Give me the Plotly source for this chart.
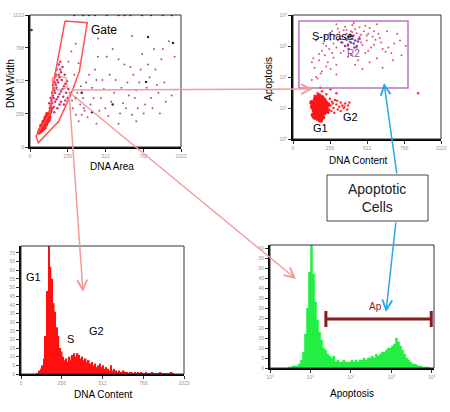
import plotly.graph_objects as go

W, H = 450, 412

# ---- panel 1: DNA Area vs DNA Width (gating) ----
p1_blob_x = [70, 80, 90, 75, 85, 95, 100, 105, 110, 90, 100, 115, 120, 105, 125, 130, 115, 135, 140, 80,
             65, 95, 110, 120, 128, 100, 88, 118, 132, 140, 60, 72, 84, 96, 108]
p1_blob_y = [140, 150, 160, 165, 175, 180, 170, 190, 200, 195, 210, 215, 225, 230, 240, 250, 255, 265, 280, 130,
             125, 145, 175, 195, 210, 150, 140, 238, 230, 300, 110, 120, 135, 160, 185]
p1_cloud_x = [140, 150, 145, 160, 155, 170, 165, 180, 175, 190, 185, 200, 195, 210, 205, 220, 150, 160, 170, 180,
              190, 200, 210, 220, 230, 240, 250, 160, 170, 150, 140, 130, 175, 215, 235, 245, 260, 255, 225, 200,
              185, 165, 210, 230, 240, 195, 205, 180, 170, 155]
p1_cloud_y = [320, 340, 360, 380, 400, 420, 440, 460, 480, 500, 520, 540, 560, 580, 600, 620, 300, 310, 350, 370,
              390, 410, 430, 450, 470, 490, 510, 460, 500, 420, 380, 340, 560, 520, 560, 420, 450, 380, 390, 330,
              300, 270, 350, 330, 360, 640, 660, 600, 540, 480]
p1_sparse_x = [290, 320, 350, 380, 300, 410, 440, 470, 500, 520, 550, 580, 610, 640, 670, 700, 730, 760, 790, 820,
               850, 880, 910, 940, 960, 980, 330, 360, 390, 420, 450, 480, 510, 540, 570, 600, 630, 660, 690, 720,
               750, 780, 810, 840, 870, 300, 340, 370, 400, 430, 460, 490, 530, 560, 620, 650, 680, 710, 740, 770,
               800, 830, 860, 890, 920, 260, 280, 310, 460, 690, 900, 600, 450, 330, 720, 270, 285, 310, 345, 365]
p1_sparse_y = [300, 420, 250, 500, 560, 330, 600, 280, 450, 700, 350, 520, 260, 640, 400, 560, 300, 720, 460, 380,
               600, 260, 500, 820, 400, 700, 650, 380, 230, 460, 520, 380, 300, 560, 420, 680, 340, 500, 250, 440,
               600, 330, 540, 760, 420, 470, 330, 280, 560, 380, 700, 520, 240, 760, 460, 300, 620, 380, 500, 260,
               640, 300, 480, 680, 350, 660, 740, 800, 840, 860, 760, 180, 180, 200, 200, 420, 360, 250, 470, 300]
p1_dark_x = [800, 969, 786, 10, 300, 360, 400, 440, 520, 600, 640, 680, 760, 820, 900, 960, 420, 560, 350, 310]
p1_dark_y = [852, 806, 504, 906, 1023, 1023, 1023, 1023, 1023, 1023, 1023, 1023, 1023, 1023, 1023, 1023, 270, 330, 420, 380]
gate_x = [237, 388, 334, 271, 192, 113, 56, 41, 135, 165, 237]
gate_y = [976, 963, 584, 390, 196, 106, 33, 85, 261, 532, 976]
r1_x = [150, 195, 245, 252, 190, 158, 150]
r1_y = [535, 550, 535, 460, 440, 455, 535]

# ---- panel 2: DNA Content vs Apoptosis ----
p2_g1_x = [150, 160, 170, 180, 190, 200, 175, 165, 185, 195, 210, 220, 155, 145, 170, 190, 205, 215, 230, 160,
           180, 200, 175, 185, 195, 240, 135, 170, 210, 160, 182, 172, 188, 166, 198, 140, 150, 225, 235, 155,
           165, 175, 190, 205, 215, 145, 180, 200, 160, 130]
p2_g1_y = [8, 10, 12, 9, 11, 10, 7, 14, 15, 8, 12, 10, 12, 9, 17, 6, 16, 7, 11, 6,
           20, 22, 11, 10, 13, 13, 11, 9, 9, 16, 12, 10, 9, 8, 11, 6, 5, 15, 8, 19,
           5, 4.5, 4, 5, 18, 14, 25, 7, 22, 15]
p2_g2_x = [260, 280, 300, 320, 340, 360, 380, 270, 310, 350, 390, 250, 290, 330, 170, 200, 150, 230, 260, 190,
           300, 865, 245, 265, 285, 305, 330, 355, 375, 255, 275]
p2_g2_y = [12, 10, 13, 11, 12, 14, 12, 16, 9, 10, 15, 9, 18, 15, 30, 35, 25, 28, 40, 45,
           30, 30, 7, 8, 7, 17, 8, 11, 9, 20, 14]
p2_s_x = [150, 180, 220, 250, 280, 310, 340, 370, 400, 430, 460, 490, 520, 550, 300, 330, 360, 390, 420, 450,
          480, 510, 540, 270, 240, 200, 160, 130, 350, 400, 450, 500, 600, 650, 700, 750, 580, 620, 300, 260,
          380, 410, 440, 470, 500, 530, 350, 320, 290, 260, 230, 200, 180, 560, 590, 610, 660, 720, 780, 300,
          420, 580, 140, 210, 170, 190, 230, 280, 330, 380, 430, 480, 530, 640, 690, 740, 160, 250, 310, 360,
          410, 460, 510, 560, 620, 680, 130, 220, 270, 320, 370, 470, 520, 570, 300, 440]
p2_s_y = [200, 350, 500, 800, 1200, 1500, 2000, 2500, 3000, 3500, 4000, 3000, 2500, 2000, 900, 1300, 1800, 1400, 2200, 1700,
          1100, 1500, 900, 600, 300, 150, 100, 80, 700, 500, 350, 600, 1800, 3000, 1200, 500, 400, 200, 250, 180,
          1000, 2800, 2600, 2300, 4500, 3800, 3200, 2800, 2200, 1600, 1000, 700, 550, 3000, 2500, 1300, 900, 2500, 1000, 5000,
          5500, 5000, 400, 1200, 90, 130, 220, 420, 600, 450, 250, 180, 300, 650, 350, 1500, 1500, 2400, 3600, 4200,
          4800, 2000, 2200, 1100, 800, 600, 300, 2000, 3000, 1700, 3300, 1300, 700, 1600, 120, 900]
p2_r2_x = [360, 380, 400, 420, 440, 370, 390, 410, 430, 450, 395, 415, 340, 460, 385, 425]
p2_r2_y = [1000, 1100, 1300, 1200, 1000, 1600, 1900, 1700, 1500, 1400, 2300, 2100, 1300, 1700, 800, 900]
r2_gate_x = [41, 795, 795, 41, 41]
r2_gate_y = [44, 44, 6400, 6400, 44]

# ---- panel 3: DNA Content histogram (bins of 10 starting at 100) ----
dna_counts = [0.5, 2, 3, 5, 9, 22, 48, 77, 62, 55, 41, 36, 27, 22, 15, 13, 10, 8, 9, 7,
              10, 8, 11, 12, 10, 12, 11, 9, 10, 8, 9, 7, 8, 6, 7, 5, 6, 4, 5, 6,
              4, 5, 3, 4, 3, 2, 5, 2, 3, 2, 1, 2, 1, 1, 2, 1, 1, 0.5, 1, 1,
              0.5, 1, 0.5, 1, 0.5, 1, 0.5, 0.5, 1, 0.5, 0.5, 0.5, 1, 0.5, 0.5, 0.5, 0.5, 1, 0.5, 0.5,
              0.5, 0.5, 0.5, 0.5, 1, 0.5]

# ---- panel 4: Apoptosis histogram (log bins of 0.05 decades starting at 10^0.45) ----
apo_counts = [0.5, 0.5, 1, 1, 1, 2, 4, 8, 17, 30, 48, 63, 47, 33, 24, 18, 14, 10, 9, 7,
              6, 5, 6, 3, 4, 3, 3, 4, 3, 3, 3, 4, 3, 4, 3, 4, 4, 5, 4, 5,
              5, 6, 5, 7, 6, 7, 8, 8, 9, 10, 10, 11, 12, 15, 13, 11, 9, 7, 5, 4,
              3, 2, 2, 1.5, 1, 1, 0.5, 0.5, 0.5, 0.5]
apo_start, apo_step = 0.45, 0.05
ap_marker = [24, 9600]  # Ap region on apoptosis axis
ap_level = 24.5

lin_ticks = [0, 256, 512, 768, 1023]
lin_text = ["0", "256", "512", "768", "1023"]
log_ticks = [1, 10, 100, 1000, 10000]
log_text = ["10<sup>0</sup>", "10<sup>1</sup>", "10<sup>2</sup>", "10<sup>3</sup>", "10<sup>4</sup>"]


def px(x):
    return x / W


def py(y):
    return 1 - y / H


fig = go.Figure()

# panel 1
fig.add_trace(go.Scatter(x=p1_sparse_x, y=p1_sparse_y, mode="markers", xaxis="x", yaxis="y",
                         marker=dict(size=2, color="#B05090")))
fig.add_trace(go.Scatter(x=p1_cloud_x, y=p1_cloud_y, mode="markers", xaxis="x", yaxis="y",
                         marker=dict(size=2.5, color="#D0306A")))
fig.add_trace(go.Scatter(x=p1_blob_x, y=p1_blob_y, mode="markers", xaxis="x", yaxis="y",
                         marker=dict(size=4, color="#FF2020")))
fig.add_trace(go.Scatter(x=p1_dark_x, y=p1_dark_y, mode="markers", xaxis="x", yaxis="y",
                         marker=dict(size=2.5, color="#402040")))
fig.add_trace(go.Scatter(x=gate_x, y=gate_y, mode="lines", xaxis="x", yaxis="y",
                         line=dict(color="#FF5050", width=1.5)))
fig.add_trace(go.Scatter(x=r1_x, y=r1_y, mode="lines", xaxis="x", yaxis="y",
                         line=dict(color="#FF7070", width=1)))

# panel 2
fig.add_trace(go.Scatter(x=p2_s_x, y=p2_s_y, mode="markers", xaxis="x2", yaxis="y2",
                         marker=dict(size=2, color="#E05080")))
fig.add_trace(go.Scatter(x=p2_r2_x, y=p2_r2_y, mode="markers", xaxis="x2", yaxis="y2",
                         marker=dict(size=2.5, color="#8040A0")))
fig.add_trace(go.Scatter(x=p2_g2_x, y=p2_g2_y, mode="markers", xaxis="x2", yaxis="y2",
                         marker=dict(size=2.5, color="#FF3030")))
fig.add_trace(go.Scatter(x=p2_g1_x, y=p2_g1_y, mode="markers", xaxis="x2", yaxis="y2",
                         marker=dict(size=5, color="#FF1515")))
fig.add_trace(go.Scatter(x=r2_gate_x, y=r2_gate_y, mode="lines", xaxis="x2", yaxis="y2",
                         line=dict(color="#C070C0", width=1.5)))

# panel 3
fig.add_trace(go.Bar(y=dna_counts, x0=105, dx=10, width=10, xaxis="x3", yaxis="y3",
                     marker=dict(color="#FF1010", line=dict(width=0))))

# panel 4
apo_x = [10 ** (apo_start + apo_step * i) for i in range(len(apo_counts) + 1)]
fig.add_trace(go.Scatter(x=apo_x, y=apo_counts + [apo_counts[-1]], mode="lines", line_shape="hv",
                         fill="tozeroy", fillcolor="#22EE44", xaxis="x4", yaxis="y4",
                         line=dict(color="#22EE44", width=0.5)))
fig.add_trace(go.Scatter(x=[ap_marker[0], ap_marker[1], None, ap_marker[0], ap_marker[0], None,
                            ap_marker[1], ap_marker[1]],
                         y=[ap_level, ap_level, None, ap_level - 4, ap_level + 4, None,
                            ap_level - 4, ap_level + 4],
                         mode="lines", xaxis="x4", yaxis="y4",
                         line=dict(color="#8B1A1A", width=3)))


def axis(domain, anchor, rng, tv, tt, typ="linear"):
    return dict(domain=domain, anchor=anchor, range=rng, type=typ, tickvals=tv, ticktext=tt,
                showgrid=False, zeroline=False, showline=True, linecolor="black", linewidth=2,
                ticks="outside", ticklen=3, tickcolor="#333", tickwidth=1, automargin=False,
                tickfont=dict(size=5, color="#999"), fixedrange=True)


d1x, d1y = [px(30), px(181)], [py(147), py(15)]
d2x, d2y = [px(293), px(441)], [py(139), py(15)]
d3x, d3y = [px(21), px(184)], [py(374), py(246)]
d4x, d4y = [px(270), px(434)], [py(368), py(245)]

shapes = []
for xr, yr in [("x", "y"), ("x2", "y2"), ("x3", "y3"), ("x4", "y4")]:
    shapes.append(dict(type="rect", xref=xr + " domain", yref=yr + " domain", x0=0, x1=1, y0=0, y1=1,
                       line=dict(color="#333", width=1)))
shapes.append(dict(type="rect", xref="paper", yref="paper", x0=px(327), x1=px(428), y0=py(221), y1=py(175),
                   line=dict(color="#444", width=1), fillcolor="white"))

F = "Liberation Sans, Arial, sans-serif"


def label(text, x, y, size=10, color="black", angle=0):
    return dict(text=text, x=px(x), y=py(y), xref="paper", yref="paper", showarrow=False,
                xanchor="center", yanchor="middle",
                font=dict(family=F, size=size, color=color), textangle=angle)


def arrow(hx, hy, tx, ty, color):
    return dict(text="", x=px(hx), y=py(hy), xref="paper", yref="paper", axref="pixel", ayref="pixel",
                ax=tx - hx, ay=ty - hy, showarrow=True, arrowhead=5, arrowsize=1.3, arrowwidth=1.5,
                arrowcolor=color, standoff=0, startstandoff=0)


pink = "#F59A9A"
blue = "#2AA8E6"
annotations = [
    label("Gate", 104, 30, 12),
    label("DNA Width", 10, 84, 10, angle=-90),
    label("DNA Area", 112, 166, 10),
    label("Apoptosis", 268, 79, 10, angle=-90),
    label("DNA Content", 358, 160, 10),
    label("S-phase", 332, 36, 11),
    label("R2", 353, 54, 10, "#9050A0"),
    label("G1", 320, 128, 11),
    label("G2", 350, 117, 11),
    label("G1", 33, 277, 11),
    label("S", 70, 339, 11),
    label("G2", 96, 331, 11),
    label("DNA Content", 103, 394, 10),
    label("Apoptosis", 352, 393, 10),
    label("Ap", 375, 306, 10, "#8B1A1A"),
    label("Apoptotic<br>Cells", 377, 198, 14, "#222"),
    arrow(313, 89, 70, 90, pink),
    arrow(83, 292, 69, 92, pink),
    arrow(296, 279, 69, 92, pink),
    arrow(384, 83, 397, 175, blue),
    arrow(386, 312, 396, 221, blue),
]

fig.update_layout(
    width=W, height=H, margin=dict(l=0, r=0, t=0, b=0),
    paper_bgcolor="white", plot_bgcolor="white", showlegend=False,
    font=dict(family=F),
    xaxis=axis(d1x, "y", [0, 1023], lin_ticks, lin_text),
    yaxis=axis(d1y, "x", [0, 1023], lin_ticks, lin_text),
    xaxis2=axis(d2x, "y2", [0, 1023], lin_ticks, lin_text),
    yaxis2=axis(d2y, "x2", [0, 4], log_ticks, log_text, "log"),
    xaxis3=axis(d3x, "y3", [0, 1023], lin_ticks, lin_text),
    yaxis3=axis(d3y, "x3", [0, 74], list(range(0, 71, 5)), [str(v) for v in range(0, 71, 5)]),
    xaxis4=axis(d4x, "y4", [0, 4.05], log_ticks, log_text, "log"),
    yaxis4=axis(d4y, "x4", [0, 61.5], list(range(0, 61, 5)), [str(v) for v in range(0, 61, 5)]),
    shapes=shapes,
    annotations=annotations,
)

# drop the page's default body margin so the figure sits at the window corner
fig.write_html("out.html", config={"displayModeBar": False},
               post_script="document.body.style.margin = '0px';")
